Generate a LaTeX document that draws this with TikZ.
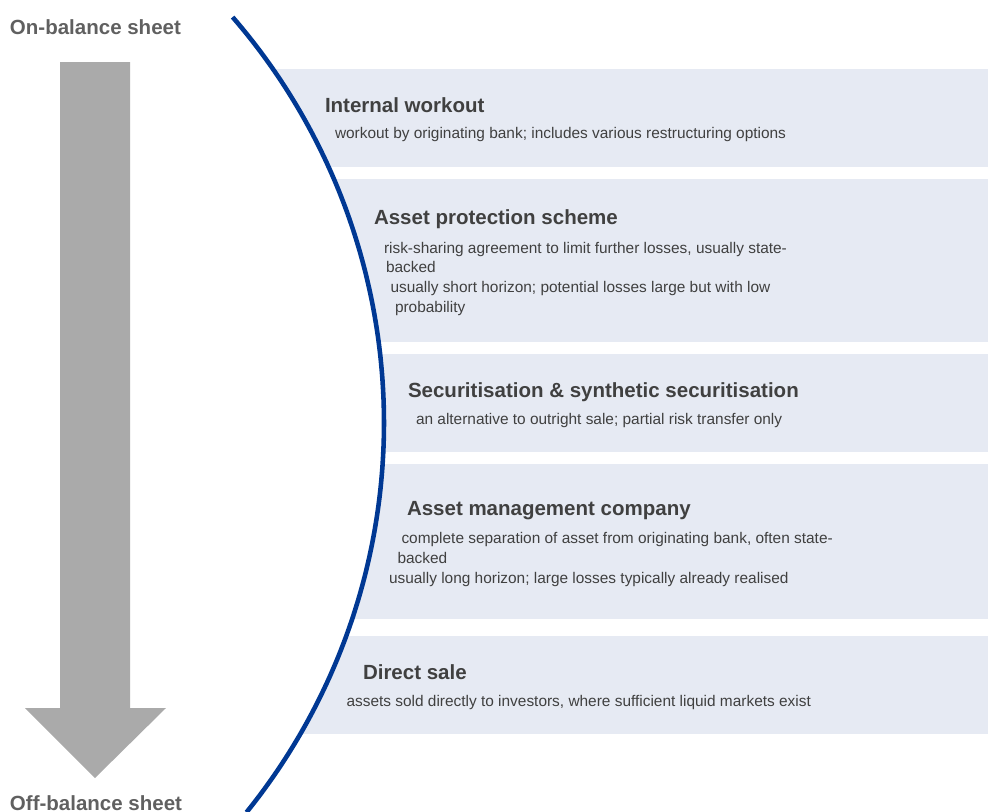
\documentclass[tikz,border=0pt]{standalone}
\usepackage{fontspec}
\setmainfont{Liberation Sans}
\definecolor{panelfill}{RGB}{230,234,243}
\definecolor{curveblue}{RGB}{0,56,147}
\definecolor{arrowgray}{RGB}{170,170,170}
\definecolor{labelgray}{RGB}{96,96,96}
\definecolor{textdark}{RGB}{64,64,64}
\tikzset{
  sidelabel/.style={anchor=base west, inner sep=0pt, outer sep=0pt, text=labelgray, font=\fontsize{11.67pt}{14pt}\selectfont\bfseries},
  ttl/.style={anchor=base west, inner sep=0pt, outer sep=0pt, text=textdark, font=\fontsize{11.67pt}{14pt}\selectfont\bfseries},
  desc/.style={anchor=base west, inner sep=0pt, outer sep=0pt, text=textdark, font=\fontsize{8.78pt}{11pt}\selectfont},
  panel/.style={fill=panelfill},
  arc line/.style={draw=curveblue, line width=2.6pt}
}
\begin{document}
\begin{tikzpicture}[x=0.02cm, y=-0.02cm]
\useasboundingbox (0,0) rectangle (988,812);
% panels, clipped to the right of the curve
\begin{scope}
  \clip plot[domain=40.9:-38.9, samples=120] ({-236+620*cos(\x)},{423-620*sin(\x)}) -- (988,812) -- (988,0) -- (230,0) -- cycle;
  \fill[panel] (200,69) rectangle (988,166.5);
  \fill[panel] (200,179) rectangle (988,341.5);
  \fill[panel] (200,354) rectangle (988,451.5);
  \fill[panel] (200,464) rectangle (988,618.5);
  \fill[panel] (200,636) rectangle (988,733.5);
\end{scope}
% curve
\draw[arc line] plot[domain=40.9:-38.9, samples=120] ({-236+620*cos(\x)},{423-620*sin(\x)});
% big arrow
\fill[arrowgray] (60,62) -- (130,62) -- (130,708) -- (166,708) -- (95,778) -- (25,708) -- (60,708) -- cycle;
% side labels
\node[sidelabel] (on) at (10,34) {On-balance sheet};
\node[sidelabel] (off) at (10,810) {Off-balance sheet};
% panel 1
\node[ttl] (t1) at (325,112) {Internal workout};
\node[desc] (d1) at (335,138) {workout by originating bank; includes various restructuring options};
% panel 2
\node[ttl] (t2) at (374,224) {Asset protection scheme};
\node[desc] (d2a) at (384,253) {risk-sharing agreement to limit further losses, usually state-};
\node[desc] (d2b) at (386,272.5) {backed};
\node[desc] (d2c) at (390.5,292.5) {usually short horizon; potential losses large but with low};
\node[desc] (d2d) at (395,312) {probability};
% panel 3
\node[ttl] (t3) at (408,397) {Securitisation \& synthetic securitisation};
\node[desc] (d3) at (416,424) {an alternative to outright sale; partial risk transfer only};
% panel 4
\node[ttl] (t4) at (407,515) {Asset management company};
\node[desc] (d4a) at (401.5,543) {complete separation of asset from originating bank, often state-};
\node[desc] (d4b) at (397.5,563) {backed};
\node[desc] (d4c) at (389,583) {usually long horizon; large losses typically already realised};
% panel 5
\node[ttl] (t5) at (363,679) {Direct sale};
\node[desc] (d5) at (346.5,706) {assets sold directly to investors, where sufficient liquid markets exist};
\end{tikzpicture}
\end{document}
